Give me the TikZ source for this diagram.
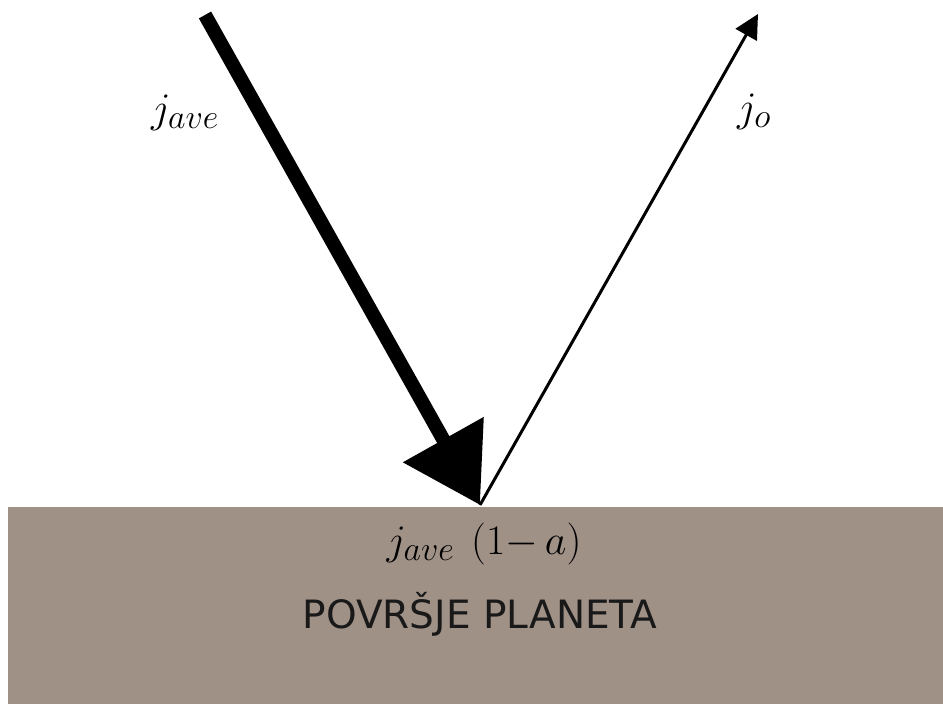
\RequirePackage{fix-cm}
\documentclass[tikz,border=0pt]{standalone}
\usepackage{fontspec}
\setsansfont{DejaVu Sans}
\usetikzlibrary{arrows.meta}
\DeclareMathSizes{42}{42}{34}{28}
\definecolor{ground}{RGB}{160,145,135}
\begin{document}
\begin{tikzpicture}[x=1pt,y=-1pt,
  lbl/.style={inner sep=0pt,font=\fontsize{42}{48}\selectfont}]
\useasboundingbox (0,0) rectangle (943,704);
\fill[ground] (8,507) rectangle (943,704);
\coordinate (src) at (205,15);
\coordinate (hit) at (480,505);
\coordinate (out) at (758,14);
\draw[line width=14pt,-{Triangle[length=75pt,width=89pt]}] (src) -- (hit);
\draw[line width=3pt,-{Triangle[length=24pt,width=24pt]}] (hit) -- (out);
\node[lbl] (jave) at (185,113) {$j_{ave}$};
\node[lbl] (jo) at (754,112) {$j_o$};
\node[lbl] (jabs) at (484,544) {$j_{ave}\hspace{0.4em}(1{-}\,a)$};
\node[inner sep=0pt,font=\sffamily\fontsize{39}{44}\selectfont,text=black!90] (label) at (480,614) {POVRŠJE PLANETA};
\end{tikzpicture}
\end{document}
